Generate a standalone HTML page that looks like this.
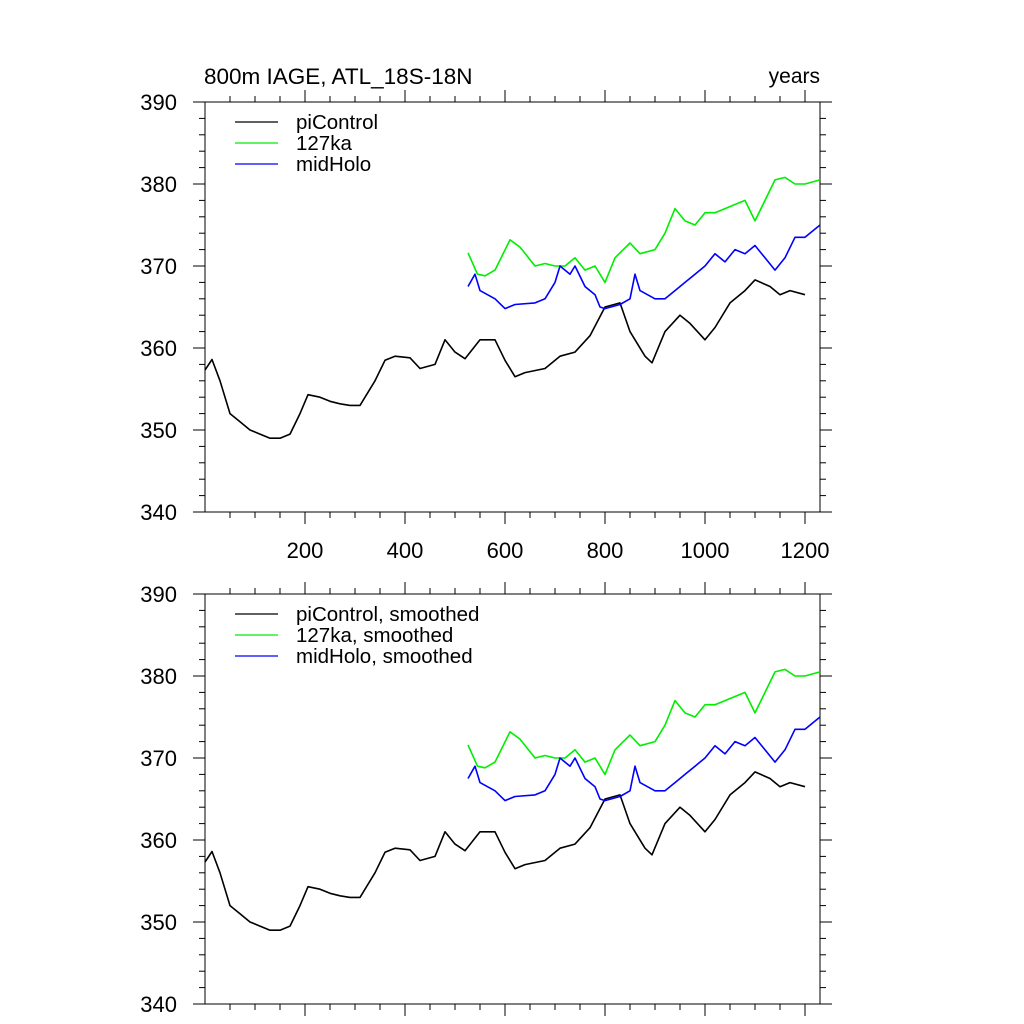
<!DOCTYPE html>
<html><head><meta charset="utf-8"><style>
html,body{margin:0;padding:0;background:#fff;}
svg{display:block;font-family:"Liberation Sans",sans-serif;}
</style></head><body>
<svg id="chart" width="1024" height="1024" viewBox="0 0 1024 1024"></svg>
<script>
const piYears=[0,14,30,50,70,90,110,130,150,170,190,206,230,250,270,290,310,340,360,380,410,430,460,480,500,520,550,580,600,620,640,680,710,740,770,800,830,850,880,894,920,950,970,1000,1020,1050,1080,1100,1130,1150,1170,1200];
const piVals=[357.3,358.6,356,352,351,350,349.5,349,349,349.5,352,354.3,354,353.5,353.2,353,353,356,358.5,359,358.8,357.5,358,361,359.5,358.7,361,361,358.5,356.5,357,357.5,359,359.5,361.5,365,365.5,362,359,358.2,362,364,363,361,362.5,365.5,367,368.3,367.5,366.5,367,366.5];
const kaYears=[526,545,560,580,610,630,660,680,700,720,740,760,780,800,820,850,870,900,920,940,960,980,1000,1020,1040,1060,1080,1100,1120,1140,1160,1180,1200,1230];
const kaVals=[371.6,369,368.8,369.5,373.2,372.3,370,370.3,370,370,371,369.5,370,368,371,372.8,371.5,372,374,377,375.5,375,376.5,376.5,377,377.5,378,375.5,378,380.5,380.8,380,380,380.5];
const mhYears=[526,540,550,580,600,620,660,680,700,710,730,740,760,780,790,800,830,850,860,870,900,920,940,960,980,1000,1020,1040,1060,1080,1100,1120,1140,1160,1180,1200,1230];
const mhVals=[367.5,369,367,366,364.8,365.3,365.5,366,368,370,369,370,367.5,366.5,365,364.8,365.3,366,369,367,366,366,367,368,369,370,371.5,370.5,372,371.5,372.5,371,369.5,371,373.5,373.5,375];
const yTicks=[340,350,360,370,380,390];
const xTicks=[200,400,600,800,1000,1200];

const svg=document.getElementById('chart');
const NS='http://www.w3.org/2000/svg';
function mk(t,a,p){const e=document.createElementNS(NS,t);for(const k in a)e.setAttribute(k,a[k]);(p||svg).appendChild(e);return e;}
const X0=205,X1=820,XMAX=1230;
function panel(top,showX,suffix,title){
  const bot=top+410;
  const g=mk('g',{});
  
  
  const sx=v=>X0+(v/XMAX)*(X1-X0);
  const sy=v=>bot-(v-340)/50*(bot-top);
  const ax=mk('rect',{x:X0,y:top,width:X1-X0,height:bot-top,fill:'none',stroke:'#000','stroke-width':1},g);
  
  
  for(let v=340;v<=390;v+=2){
    const y=sy(v),maj=v%10==0,L=maj?12:6;
    mk('line',{x1:X0-L,x2:X0,y1:y,y2:y,stroke:'#000'},g);
    mk('line',{x1:X1,x2:X1+L,y1:y,y2:y,stroke:'#000'},g);
  }
  yTicks.forEach(v=>{const t=mk('text',{x:X0-28,y:sy(v)+8,'text-anchor':'end','font-size':22},g);t.textContent=v;
    });
  for(let v=50;v<XMAX;v+=50){
    const x=sx(v),maj=v%200==0,L=maj?12:6;
    mk('line',{x1:x,x2:x,y1:bot,y2:bot+L,stroke:'#000'},g);
    mk('line',{x1:x,x2:x,y1:top-L,y2:top,stroke:'#000'},g);
  }
  if(showX) xTicks.forEach(v=>{const t=mk('text',{x:sx(v),y:bot+46,'text-anchor':'middle','font-size':22},g);t.textContent=v;
    });
  const series=[[piYears,piVals,'#000','piControl'],[kaYears,kaVals,'#00ee00','127ka'],[mhYears,mhVals,'#0000ff','midHolo']];
  series.forEach((s,i)=>{
    const d=s[0].map((yr,j)=>(j?'L':'M')+sx(yr).toFixed(1)+','+sy(s[1][j]).toFixed(1)).join(' ');
    const p=mk('path',{d:d,fill:'none',stroke:s[2],'stroke-width':1.6,'stroke-linejoin':'round'},g);
    
    
    const ly=top+20+i*21;
    const ll=mk('line',{x1:235,x2:278,y1:ly,y2:ly,stroke:s[2],'stroke-width':1.3},g);
    
    const lt=mk('text',{x:296,y:ly+7,'font-size':20.5},g);lt.textContent=s[3]+(showX?'':', smoothed');
    
  });
  if(title){
    const t1=mk('text',{x:204,y:84,'font-size':22.5},g);t1.textContent='800m IAGE, ATL_18S-18N';
    
    const t2=mk('text',{x:820,y:83,'font-size':21,'text-anchor':'end'},g);t2.textContent='years';
    
  }
}
panel(102,true,'-top',true);
panel(594,false,'-bottom',false);
</script>
</body></html>
